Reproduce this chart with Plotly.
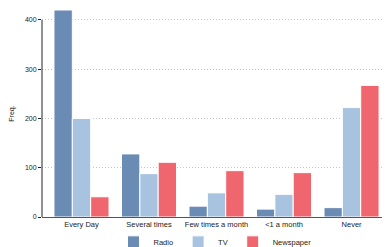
import plotly.graph_objects as go

categories = ["Every Day", "Several times", "Few times a month", "<1 a month", "Never"]
radio = [420, 128, 22, 16, 19]
tv = [200, 88, 49, 46, 222]
newspaper = [41, 111, 94, 90, 267]
series_names = ["Radio", "TV", "Newspaper"]
colors = ["#6a8bb3", "#a7c3e0", "#f0666f"]

fig = go.Figure()
for name, vals, col in zip(series_names, [radio, tv, newspaper], colors):
    fig.add_trace(go.Bar(x=categories, y=vals, name=name, marker_color=col,
                         marker_line=dict(color="white", width=1)))

font = "Liberation Sans, Arial, sans-serif"
fig.update_layout(
    width=382, height=239,
    margin=dict(l=34, r=2, t=2, b=30, autoexpand=False),
    barmode="group", bargap=0.185, bargroupgap=0.0,
    plot_bgcolor="white", paper_bgcolor="white",
    font=dict(family=font, size=7, color="#222"),
    showlegend=True,
    legend=dict(orientation="h", x=0.5, xanchor="center", y=-0.12, yanchor="middle",
                font=dict(size=7.5), traceorder="normal", itemwidth=30),
    xaxis=dict(range=[-0.585, 4.54], showgrid=False, ticks="", showline=True,
               linecolor="#555", linewidth=1, tickfont=dict(size=7.5), zeroline=False,
               automargin=False, tickangle=0),
    yaxis=dict(range=[0, 420], tickvals=[0, 100, 200, 300, 400], ticks="outside",
               ticklen=3, tickcolor="#222", showgrid=True, gridcolor="#c8c8c8",
               griddash="1px,2px", gridwidth=1, zeroline=False, showline=False,
               tickfont=dict(size=7), automargin=False,
               title=dict(text="Freq.", font=dict(size=7), standoff=10)),
)
fig.add_shape(type="line", xref="paper", yref="y", x0=0, x1=0, y0=0, y1=400,
              line=dict(color="#222", width=1))
fig.write_html("out.html")
